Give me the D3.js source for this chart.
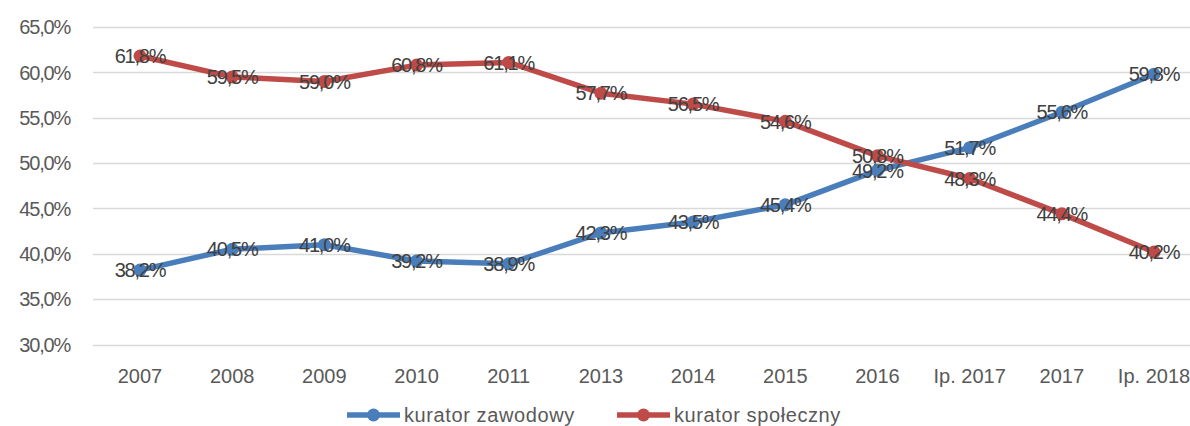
<!DOCTYPE html>
<html>
<head>
<meta charset="utf-8">
<script src="https://cdn.jsdelivr.net/npm/d3@7"></script>
<style>
  body { margin: 0; background: #fff; }
  svg { font-family: "Liberation Sans", "DejaVu Sans", sans-serif; }
</style>
</head>
<body>
<svg id="chart" width="1190" height="426"></svg>
<script>
// data
var categories = ["2007", "2008", "2009", "2010", "2011", "2013", "2014", "2015", "2016", "Ip. 2017", "2017", "Ip. 2018"];
var zawodowy = [38.2, 40.5, 41.0, 39.2, 38.9, 42.3, 43.5, 45.4, 49.2, 51.7, 55.6, 59.8];
var spoleczny = [61.8, 59.5, 59.0, 60.8, 61.1, 57.7, 56.5, 54.6, 50.8, 48.3, 44.4, 40.2];
var yTicks = [30, 35, 40, 45, 50, 55, 60, 65];

var seriesList = [
  { name: "kurator zawodowy", values: zawodowy, color: "#4a7ebb" },
  { name: "kurator społeczny", values: spoleczny, color: "#be4b48" }
];

var svg = d3.select("#chart");
var fmt = function (v) { return v.toFixed(1).replace(".", ",") + "%"; };

var x = d3.scalePoint()
  .domain(categories)
  .range([140, 1154]);

var y = d3.scaleLinear()
  .domain([30, 65])
  .range([344.5, 27]);

// gridlines
svg.append("g")
  .selectAll("line")
  .data(yTicks)
  .join("line")
  .attr("x1", 93)
  .attr("x2", 1190)
  .attr("y1", d => Math.round(y(d)) + 0.5)
  .attr("y2", d => Math.round(y(d)) + 0.5)
  .attr("stroke", "#d9d9d9")
  .attr("stroke-width", 1.3);

// y axis labels
svg.append("g")
  .selectAll("text")
  .data(yTicks)
  .join("text")
  .attr("x", 70)
  .attr("y", d => y(d))
  .attr("dy", "0.36em")
  .attr("text-anchor", "end")
  .attr("font-size", 20)
  .attr("letter-spacing", -1.2)
  .attr("fill", "#595959")
  .text(d => d.toFixed(1).replace(".", ",") + "%");

// x axis labels
svg.append("g")
  .selectAll("text")
  .data(categories)
  .join("text")
  .attr("x", d => x(d))
  .attr("y", 383)
  .attr("text-anchor", "middle")
  .attr("font-size", 20)
  .attr("fill", "#595959")
  .text(d => d);

var line = d3.line()
  .x((d, i) => x(categories[i]))
  .y(d => y(d));

seriesList.forEach(function (s) {
  var g = svg.append("g");
  g.append("path")
    .attr("d", line(s.values))
    .attr("fill", "none")
    .attr("stroke", s.color)
    .attr("stroke-width", 5.5)
    .attr("stroke-linejoin", "round")
    .attr("stroke-linecap", "round");

  g.selectAll("circle")
    .data(s.values)
    .join("circle")
    .attr("cx", (d, i) => x(categories[i]))
    .attr("cy", d => y(d))
    .attr("r", 6.5)
    .attr("fill", s.color);
});

// data labels centered on points
seriesList.forEach(function (s) {
  svg.append("g")
    .selectAll("text")
    .data(s.values)
    .join("text")
    .attr("x", (d, i) => x(categories[i]))
    .attr("y", d => y(d))
    .attr("dy", "0.36em")
    .attr("text-anchor", "middle")
    .attr("font-size", 20)
    .attr("letter-spacing", -1.2)
    .attr("fill", "#404040")
    .text(d => fmt(d));
});

// legend
var legendX = [347, 617];
var legend = svg.append("g")
  .selectAll("g")
  .data(seriesList)
  .join("g")
  .attr("transform", (d, i) => `translate(${legendX[i]}, 415)`);

legend.append("line")
  .attr("x1", 0)
  .attr("x2", 53)
  .attr("stroke", d => d.color)
  .attr("stroke-width", 5.5);

legend.append("circle")
  .attr("cx", 26.5)
  .attr("r", 6.5)
  .attr("fill", d => d.color);

legend.append("text")
  .attr("x", 57)
  .attr("dy", "0.36em")
  .attr("font-size", 20)
  .attr("letter-spacing", 0.6)
  .attr("fill", "#595959")
  .text(d => d.name);
</script>
</body>
</html>
